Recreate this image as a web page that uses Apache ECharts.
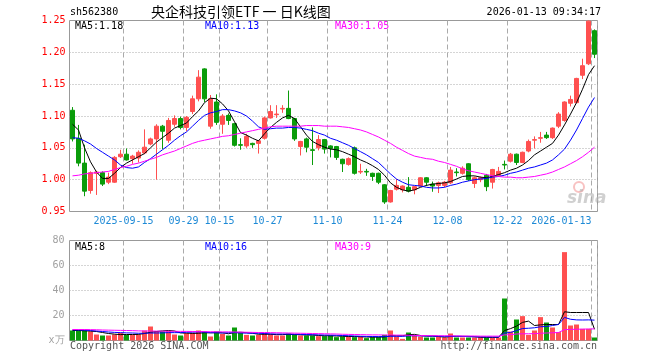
<!DOCTYPE html>
<html><head><meta charset="utf-8">
<script src="https://cdn.jsdelivr.net/npm/echarts@6/dist/echarts.min.js"></script>
<style>html,body{margin:0;padding:0;background:#fff}#c{width:660px;height:360px}</style>
</head><body><div id="c"></div>
<script>
const dates = [
'2025-09-02','2025-09-03','2025-09-04','2025-09-05','2025-09-08','2025-09-09','2025-09-10','2025-09-11','2025-09-12','2025-09-15',
'2025-09-16','2025-09-17','2025-09-18','2025-09-19','2025-09-22','2025-09-23','2025-09-24','2025-09-25','2025-09-26','2025-09-29',
'2025-09-30','2025-10-09','2025-10-10','2025-10-13','2025-10-14','2025-10-15','2025-10-16','2025-10-17','2025-10-20','2025-10-21',
'2025-10-22','2025-10-23','2025-10-24','2025-10-27','2025-10-28','2025-10-29','2025-10-30','2025-10-31','2025-11-03','2025-11-04',
'2025-11-05','2025-11-06','2025-11-07','2025-11-10','2025-11-11','2025-11-12','2025-11-13','2025-11-14','2025-11-17','2025-11-18',
'2025-11-19','2025-11-20','2025-11-21','2025-11-24','2025-11-25','2025-11-26','2025-11-27','2025-11-28','2025-12-01','2025-12-02',
'2025-12-03','2025-12-04','2025-12-05','2025-12-08','2025-12-09','2025-12-10','2025-12-11','2025-12-12','2025-12-15','2025-12-16',
'2025-12-17','2025-12-18','2025-12-19','2025-12-22','2025-12-23','2025-12-24','2025-12-25','2025-12-26','2025-12-29','2025-12-30',
'2025-12-31','2026-01-05','2026-01-06','2026-01-07','2026-01-08','2026-01-09','2026-01-12','2026-01-13'];

const opens = [
1.109,1.065,1.026,0.983,1.010,1.011,0.996,0.996,1.036,1.040,
1.033,1.034,1.042,1.056,1.064,1.084,1.062,1.087,1.096,1.082,
1.107,1.127,1.174,1.084,1.122,1.087,1.101,1.088,1.055,1.053,
1.057,1.057,1.065,1.097,1.102,1.111,1.112,1.096,1.052,1.064,
1.047,1.050,1.063,1.053,1.052,1.032,1.024,1.050,1.012,1.013,
1.010,1.010,0.992,0.965,0.985,0.984,0.988,0.984,0.990,1.003,
0.993,0.991,0.991,0.995,1.012,1.010,1.025,0.994,1.000,1.007,
0.996,1.007,1.024,1.029,1.040,1.027,1.045,1.062,1.065,1.070,
1.066,1.084,1.093,1.120,1.121,1.164,1.182,1.234];
const closes = [
1.064,1.026,0.982,1.011,1.012,0.993,1.004,1.035,1.040,1.031,
1.037,1.043,1.051,1.064,1.084,1.076,1.093,1.096,1.082,1.098,
1.127,1.161,1.127,1.127,1.090,1.100,1.093,1.054,1.054,1.068,
1.055,1.061,1.097,1.107,1.103,1.112,1.096,1.064,1.060,1.051,
1.046,1.063,1.048,1.049,1.035,1.025,1.033,1.010,1.013,1.012,
1.005,0.996,0.965,0.983,0.991,0.990,0.982,0.989,1.003,0.996,
0.990,0.995,0.996,1.015,1.011,1.018,1.000,1.003,1.003,0.989,
1.016,1.013,1.023,1.040,1.027,1.043,1.060,1.063,1.066,1.066,
1.081,1.103,1.122,1.126,1.159,1.179,1.249,1.197];
const lows = [
1.060,1.021,0.974,0.978,0.976,0.990,0.993,0.995,1.034,1.030,
1.025,1.027,1.040,1.054,1.000,1.048,1.058,1.083,1.079,1.076,
1.103,1.123,1.122,1.080,1.086,1.072,1.086,1.052,1.047,1.050,
1.050,1.041,1.063,1.096,1.097,1.105,1.095,1.061,1.038,1.043,
1.023,1.046,1.041,1.035,1.031,1.012,1.022,1.008,1.009,1.006,
0.998,0.993,0.962,0.964,0.983,0.980,0.980,0.977,0.989,0.990,
0.981,0.979,0.988,0.993,1.005,1.008,0.998,0.987,0.996,0.982,
0.986,1.005,1.016,1.027,1.023,1.026,1.043,1.049,1.058,1.064,
1.064,1.081,1.091,1.115,1.120,1.158,1.180,1.191];
const highs = [
1.114,1.086,1.055,1.013,1.014,1.013,1.011,1.037,1.047,1.049,
1.039,1.046,1.079,1.066,1.087,1.086,1.097,1.101,1.099,1.100,
1.132,1.172,1.175,1.133,1.134,1.103,1.104,1.089,1.065,1.072,
1.058,1.062,1.099,1.117,1.117,1.117,1.140,1.097,1.061,1.066,
1.082,1.070,1.064,1.054,1.053,1.033,1.035,1.052,1.025,1.017,
1.011,1.011,0.993,0.984,1.001,0.991,1.004,0.990,1.004,1.004,
0.997,0.997,0.998,1.020,1.018,1.021,1.026,1.005,1.005,1.009,
1.017,1.020,1.030,1.042,1.041,1.044,1.063,1.068,1.075,1.075,
1.082,1.106,1.123,1.132,1.160,1.190,1.250,1.236];

const ma5 = [
1.087,1.078,1.050,1.028,1.012,1.002,1.002,1.010,1.019,1.026,
1.031,1.036,1.041,1.050,1.059,1.066,1.073,1.081,1.085,1.089,
1.099,1.108,1.121,1.128,1.127,1.119,1.108,1.091,1.074,1.070,
1.065,1.061,1.072,1.082,1.090,1.097,1.101,1.096,1.083,1.070,
1.060,1.055,1.051,1.048,1.047,1.044,1.040,1.036,1.031,1.027,
1.022,1.016,1.007,0.995,0.988,0.984,0.982,0.984,0.988,0.991,
0.993,0.994,0.995,0.997,1.001,1.005,1.006,1.006,1.004,1.003,
1.005,1.008,1.011,1.015,1.018,1.023,1.030,1.039,1.045,1.051,
1.057,1.070,1.086,1.103,1.121,1.142,1.165,1.179];
const ma10 = [
1.066,1.065,1.061,1.056,1.049,1.043,1.037,1.031,1.023,1.019,
1.018,1.020,1.027,1.033,1.040,1.047,1.054,1.062,1.069,1.075,
1.084,1.093,1.101,1.105,1.107,1.110,1.110,1.108,1.105,1.100,
1.092,1.083,1.079,1.080,1.081,1.081,1.082,1.082,1.081,1.079,
1.077,1.073,1.070,1.065,1.062,1.058,1.054,1.049,1.044,1.039,
1.033,1.027,1.018,1.009,1.001,0.996,0.992,0.991,0.990,0.988,
0.987,0.987,0.988,0.991,0.993,0.996,0.998,1.000,1.001,1.002,
1.004,1.005,1.007,1.010,1.012,1.015,1.018,1.020,1.023,1.026,
1.031,1.039,1.048,1.062,1.078,1.096,1.114,1.129];
const ma30 = [
1.006,1.007,1.009,1.010,1.011,1.012,1.013,1.016,1.019,1.021,
1.024,1.026,1.029,1.032,1.035,1.039,1.042,1.045,1.049,1.053,
1.057,1.060,1.062,1.064,1.066,1.068,1.069,1.071,1.073,1.075,
1.077,1.079,1.081,1.083,1.084,1.084,1.084,1.084,1.084,1.085,
1.085,1.085,1.084,1.084,1.084,1.083,1.082,1.080,1.078,1.075,
1.071,1.067,1.062,1.057,1.051,1.046,1.041,1.037,1.035,1.033,
1.032,1.029,1.027,1.024,1.021,1.017,1.014,1.012,1.010,1.008,
1.006,1.005,1.004,1.004,1.003,1.003,1.004,1.005,1.007,1.009,
1.012,1.016,1.020,1.025,1.030,1.036,1.043,1.051];

const volumes = [
8.0,8.0,8.0,7.2,4.8,4.0,4.0,4.8,6.1,4.5,
4.5,4.8,8.0,11.2,7.2,7.2,7.5,4.8,4.0,5.9,
6.1,8.0,7.2,3.2,7.2,5.3,4.0,10.4,6.0,4.5,
4.0,4.5,6.0,5.0,4.0,4.0,5.5,4.5,4.0,4.0,
4.0,3.5,3.5,4.0,2.7,3.2,3.2,2.7,3.2,1.9,
2.7,2.7,4.5,8.0,3.2,1.3,6.4,4.0,3.2,2.4,
2.4,3.2,2.4,5.6,2.4,2.4,2.4,2.4,2.7,2.4,
2.4,2.4,33.6,7.2,16.8,19.5,4.5,8.0,18.7,14.4,
10.4,6.7,70.7,12.0,12.8,9.3,9.3,2.4];
const volMa5 = [
8.0,8.0,7.8,7.5,7.2,6.4,5.6,5.1,4.7,4.8,
4.8,4.9,5.6,6.6,7.2,7.7,8.0,7.6,6.1,5.9,
5.7,5.8,6.2,6.1,6.3,6.2,5.4,6.4,6.6,6.3,
5.8,5.0,5.0,5.0,4.7,4.7,5.0,4.8,4.6,4.4,
4.4,4.0,3.8,3.8,3.6,3.4,3.2,3.2,3.0,2.8,
2.7,2.7,2.9,3.9,3.8,3.8,4.7,4.9,4.0,3.5,
3.5,3.2,2.7,3.2,3.3,3.3,3.3,3.0,2.6,2.5,
2.5,2.5,8.0,9.5,11.5,14.5,15.5,12.0,12.5,12.8,
12.8,12.8,23.0,22.4,22.4,22.4,22.4,9.0];
const volMa10 = [
8.5,8.4,8.3,8.0,7.6,7.2,6.8,6.5,6.3,6.1,
6.0,5.8,5.8,6.0,6.0,6.1,6.3,6.3,6.3,6.6,
6.7,6.9,6.7,6.3,6.2,6.0,6.2,6.3,6.0,5.9,
5.8,5.8,5.6,5.3,5.2,5.2,5.1,5.0,4.9,4.8,
4.6,4.5,4.4,4.3,4.2,4.0,3.8,3.6,3.4,3.3,
3.2,3.1,3.1,3.4,3.4,3.3,3.7,3.8,3.7,3.6,
3.5,3.4,3.3,3.4,3.4,3.3,3.1,3.0,2.9,2.9,
2.8,2.8,6.0,6.4,7.9,9.6,9.8,10.2,11.0,11.2,
12.0,12.8,18.5,17.0,16.5,16.4,16.5,16.3];
const volMa30 = [
8.8,8.8,8.8,8.7,8.6,8.4,8.3,8.2,8.1,8.0,
7.9,7.7,7.6,7.6,7.5,7.5,7.4,7.4,7.3,7.3,
7.2,7.1,7.1,7.0,7.0,6.9,6.9,6.8,6.7,6.6,
6.5,6.4,6.4,6.3,6.2,6.1,6.0,5.9,5.8,5.7,
5.6,5.5,5.4,5.3,5.2,5.0,4.9,4.8,4.7,4.6,
4.5,4.5,4.4,4.4,4.3,4.3,4.2,4.1,4.0,3.9,
3.9,3.8,3.8,3.7,3.7,3.6,3.6,3.6,3.5,3.5,
3.5,3.5,4.5,4.7,5.2,5.4,5.4,5.5,5.8,6.0,
6.2,6.4,8.7,8.9,9.0,9.1,9.2,9.3];

const tickDates = ['2025-09-15','2025-09-29','2025-10-15','2025-10-27','2025-11-10','2025-11-24','2025-12-08','2025-12-22','2026-01-13'];
const tickLabels = ['2025-09-15','09-29','10-15','10-27','11-10','11-24','12-08','12-22','2026-01-13'];
const priceLegend = ['MA5:1.18','MA10:1.13','MA30:1.05'];
const volLegend = ['MA5:8','MA10:16','MA30:9'];

const FONT = 'DejaVu Sans Mono';
const RED = '#ff5050', GREEN = '#0a9c0a';
const GL = 69.5, GW = 528;

const candleData = dates.map((d, i) => [opens[i], closes[i], lows[i], highs[i]]);
const volData = volumes.map((v, i) => ({ value: v, itemStyle: { color: closes[i] >= opens[i] ? RED : GREEN } }));
const isTick = (i) => tickDates.indexOf(dates[i]) >= 0;

function xAxisBase(gi) {
  return {
    type: 'category', gridIndex: gi, data: dates, boundaryGap: true,
    axisLine: { show: false }, axisTick: { show: false },
    splitLine: { show: true, interval: (i) => isTick(i), lineStyle: { color: '#aaaaaa', type: [5, 3], width: 1 } }
  };
}
const xa0 = xAxisBase(0);
xa0.axisLabel = {
  interval: (i) => isTick(i), margin: 5, hideOverlap: false,
  formatter: (v) => {
    const k = tickDates.indexOf(v);
    return (k === tickDates.length - 1 ? '{e|' : '{c|') + tickLabels[k] + '}';
  },
  alignMaxLabel: 'right',
  rich: {
    c: { fontFamily: FONT, fontSize: 10, color: '#1e8ad6', padding: [0, 6, 0, 0] },
    e: { fontFamily: FONT, fontSize: 10, color: '#1e8ad6', padding: [0, 3, 0, 0] }
  }
};
const xa1 = xAxisBase(1);
xa1.axisLabel = { show: false };

const lineS = (name, data, color, xi, yi) => ({
  type: 'line', name, data, xAxisIndex: xi, yAxisIndex: yi, showSymbol: false, symbol: 'none',
  lineStyle: { color, width: 1 }, silent: true, z: 5
});

const txt = (x, y, text, fill, extra) => Object.assign({
  type: 'text', x, y, silent: true,
  style: Object.assign({ text, fill, font: '10px "' + FONT + '"', align: 'left', verticalAlign: 'middle' }, extra || {})
});

const option = {
  animation: false,
  backgroundColor: '#fff',
  grid: [
    { left: GL, top: 20.5, width: GW, height: 191, show: true, borderColor: '#999', borderWidth: 1, backgroundColor: 'transparent' },
    { left: GL, top: 240.5, width: GW, height: 100, show: true, borderColor: '#999', borderWidth: 1, backgroundColor: 'transparent' }
  ],
  xAxis: [xa0, xa1],
  yAxis: [
    { type: 'value', gridIndex: 0, min: 0.95, max: 1.25, interval: 0.05,
      axisLine: { show: false }, axisTick: { show: false },
      axisLabel: { color: '#ff0000', fontFamily: FONT, fontSize: 10, margin: 4, formatter: (v) => v.toFixed(2) },
      splitLine: { show: true, showMinLine: false, showMaxLine: false, lineStyle: { color: '#aaaaaa', type: [1, 2] } } },
    { type: 'value', gridIndex: 1, min: 0, max: 80, interval: 20,
      axisLine: { show: false }, axisTick: { show: false },
      axisLabel: { color: '#a0a0a0', fontFamily: FONT, fontSize: 10, margin: 5, formatter: (v) => v === 0 ? 'x万' : String(v) },
      splitLine: { show: true, showMinLine: false, showMaxLine: false, lineStyle: { color: '#aaaaaa', type: [1, 2] } } }
  ],
  series: [
    { type: 'candlestick', xAxisIndex: 0, yAxisIndex: 0, data: candleData, barWidth: 5,
      itemStyle: { color: RED, color0: GREEN, borderColor: RED, borderColor0: GREEN, borderWidth: 1 }, z: 3 },
    lineS('MA5', ma5, '#000000', 0, 0),
    lineS('MA10', ma10, '#0000ff', 0, 0),
    lineS('MA30', ma30, '#ff00ff', 0, 0),
    { type: 'bar', xAxisIndex: 1, yAxisIndex: 1, data: volData, barWidth: 5, z: 3 },
    lineS('VMA5', volMa5, '#000000', 1, 1),
    lineS('VMA10', volMa10, '#0000ff', 1, 1),
    lineS('VMA30', volMa30, '#ff00ff', 1, 1)
  ],
  graphic: [
    txt(70, 12, 'sh562380', '#000'),
    txt(151, 12, '央企科技引领ETF 一 日K线图', '#000', { font: '14px "Noto Sans CJK SC"' }),
    txt(601, 12, '2026-01-13 09:34:17', '#000', { align: 'right' }),
    txt(75, 26, priceLegend[0], '#000000'),
    txt(205, 26, priceLegend[1], '#0000ff'),
    txt(335, 26, priceLegend[2], '#ff00ff'),
    txt(75, 247, volLegend[0], '#000000'),
    txt(205, 247, volLegend[1], '#0000ff'),
    txt(335, 247, volLegend[2], '#ff00ff'),
    txt(70, 346, 'Copyright 2026 SINA.COM', '#555'),
    txt(597, 346, 'http://finance.sina.com.cn', '#555', { align: 'right' }),
    { type: 'circle', shape: { cx: 579, cy: 187, r: 5 }, silent: true, style: { fill: 'none', stroke: 'rgba(240,120,120,0.45)', lineWidth: 2 } },
    txt(567, 199, 'sina', 'rgba(150,150,150,0.45)', { font: 'italic bold 17px "DejaVu Sans"' })
  ]
};
const chart = echarts.init(document.getElementById('c'), null, { renderer: 'canvas' });
chart.setOption(option);
</script></body></html>
